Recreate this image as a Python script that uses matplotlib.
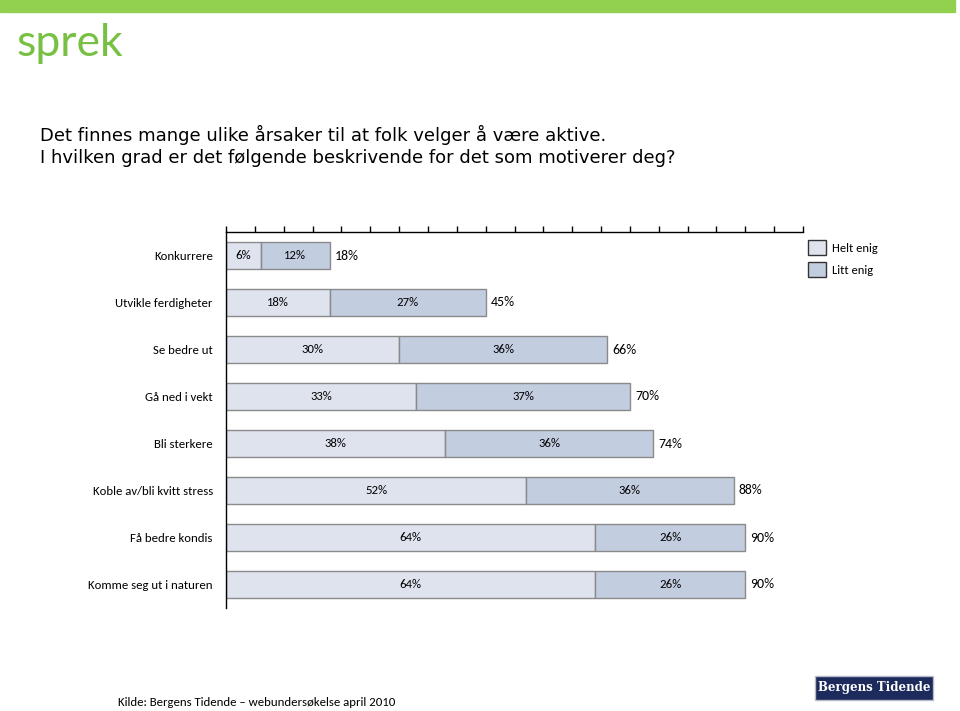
import matplotlib.pyplot as plt
import matplotlib.patches as mpatches

categories = ['Konkurrere', 'Utvikle ferdigheter', 'Se bedre ut', 'Gå ned i vekt',
              'Bli sterkere', 'Koble av/bli kvitt stress', 'Få bedre kondis',
              'Komme seg ut i naturen']
helt_enig = [6, 18, 30, 33, 38, 52, 64, 64]
litt_enig = [12, 27, 36, 37, 36, 36, 26, 26]
totals = [18, 45, 66, 70, 74, 88, 90, 90]

c_helt = '#dee3ee'
c_litt = '#c3cde0'
edge = '#8a8a8a'
lab_font = ['Carlito', 'Lato', 'DejaVu Sans']

fig = plt.figure(figsize=(9.6, 7.11), dpi=100)

# green strip and logo
fig.patches.append(mpatches.Rectangle((0, 1 - 12 / 711), 955 / 960, 12 / 711,
                                      transform=fig.transFigure, color='#92d050'))
fig.text(16 / 960, 1 - 43 / 711, 'sprek', color='#78c043', fontsize=32,
         family='Lato', va='center', ha='left')

# title
fig.text(40 / 960, 1 - 135 / 711,
         'Det finnes mange ulike årsaker til at folk velger å være aktive.',
         fontsize=13, family='DejaVu Sans', va='center')
fig.text(40 / 960, 1 - 158 / 711,
         'I hvilken grad er det følgende beskrivende for det som motiverer deg?',
         fontsize=13, family='DejaVu Sans', va='center')

ax = fig.add_axes([226 / 960, 1 - 608 / 711, 577 / 960, 376 / 711])
y = list(range(len(categories)))
h = 0.56
ax.barh(y, helt_enig, height=h, color=c_helt, edgecolor=edge, linewidth=1)
ax.barh(y, litt_enig, left=helt_enig, height=h, color=c_litt, edgecolor=edge, linewidth=1)

for i in y:
    ax.text(helt_enig[i] / 2, i, f'{helt_enig[i]}%', ha='center', va='center',
            fontsize=9.2, family=lab_font)
    ax.text(helt_enig[i] + litt_enig[i] / 2, i, f'{litt_enig[i]}%', ha='center',
            va='center', fontsize=9.2, family=lab_font)
    ax.text(totals[i] + 0.9, i, f'{totals[i]}%', ha='left', va='center',
            fontsize=10, family=lab_font)

ax.set_xlim(0, 100)
ax.set_ylim(7.5, -0.5)
ax.set_yticks(y)
ax.set_yticklabels(categories, fontsize=9.2, family=lab_font)
ax.tick_params(axis='y', length=0, pad=9.5)
ax.xaxis.tick_top()
ax.set_xticks(range(0, 101, 5))
ax.tick_params(axis='x', direction='out', length=4, labeltop=False, width=1)
ax.spines['right'].set_visible(False)
ax.spines['bottom'].set_visible(False)
for s in ('top', 'left'):
    ax.spines[s].set_linewidth(1)

# legend
for k, (name, col) in enumerate([('Helt enig', c_helt), ('Litt enig', c_litt)]):
    yy = 240 + k * 22
    fig.patches.append(mpatches.Rectangle((808 / 960, 1 - (yy + 15) / 711), 18 / 960, 15 / 711,
                                          transform=fig.transFigure, facecolor=col,
                                          edgecolor='#333333', linewidth=1))
    fig.text(832 / 960, 1 - (yy + 8) / 711, name, fontsize=9, family=lab_font, va='center')

# source
fig.text(118 / 960, 1 - 702 / 711, 'Kilde: Bergens Tidende – webundersøkelse april 2010',
         fontsize=9.2, family=lab_font, va='center')

# newspaper logo
fig.patches.append(mpatches.Rectangle((815 / 960, 1 - 700 / 711), 118 / 960, 24 / 711,
                                      transform=fig.transFigure, facecolor='#1c2a5c',
                                      edgecolor='#b8bcc8', linewidth=1))
fig.text(874 / 960, 1 - 688 / 711, 'Bergens Tidende', color='white', fontsize=8.5,
         family='DejaVu Serif', weight='bold', ha='center', va='center')

fig.savefig('out.png', dpi=100)
